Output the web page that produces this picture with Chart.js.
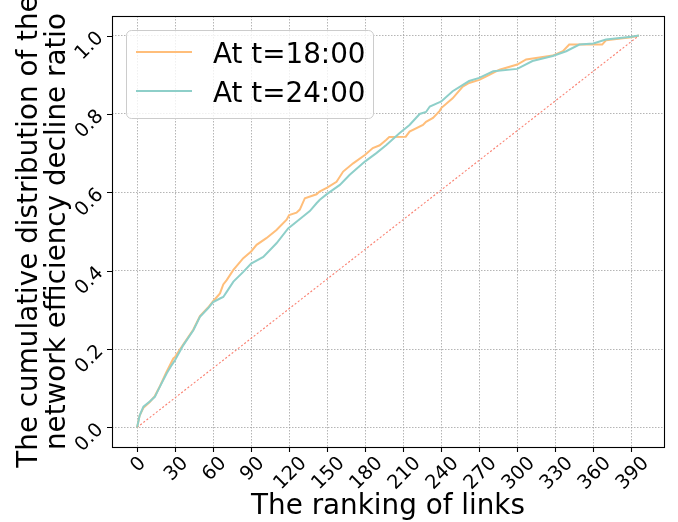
<!DOCTYPE html>
<html><head><meta charset="utf-8">
<script src="https://cdn.jsdelivr.net/npm/chart.js@4.4.1/dist/chart.umd.min.js"></script>
<style>html,body{margin:0;padding:0;background:#fff;} #wrap{width:678px;height:522px;}</style>
</head><body><div id="wrap"><canvas id="c" width="678" height="522"></canvas></div>
<script>
const seriesLabels = ['At t=18:00', 'At t=24:00'];
const rank1800 = [0,2,5,10,14,18,23,28.6,30,36.5,44.4,49.6,56,60,65.4,68,70.7,76,83.8,90,94.3,102,110,118,120,125.8,128.4,132.4,141.6,144,150,157.4,162.6,170.5,180,186,191.5,196.7,199,212,215,225.6,228,233.5,238.8,240,249,257,262,270,275.6,286,300,307,328,336,341,367,370,390,396];
const ratio1800 = [0,0.03,0.05,0.065,0.08,0.105,0.14,0.176,0.18,0.212,0.25,0.284,0.306,0.322,0.342,0.365,0.376,0.402,0.432,0.449,0.466,0.483,0.504,0.53,0.542,0.548,0.556,0.585,0.595,0.602,0.612,0.627,0.653,0.674,0.696,0.713,0.72,0.734,0.741,0.742,0.755,0.772,0.78,0.79,0.808,0.815,0.84,0.87,0.879,0.887,0.896,0.913,0.926,0.939,0.949,0.96,0.977,0.977,0.988,0.996,1.0];
const rank2400 = [0,2,5,10,14,18,23.4,27.3,30,36.5,44.4,49.6,56,60,65.4,68,70.7,76,83.8,90,99.6,110,119.2,128.5,136.3,141.6,144.2,150,160,167.8,180,188.8,196.7,207,215,223,228,231,238.8,240,249,262,270,281,300,312,328,338.6,349,360,370,390,396];
const ratio2400 = [0,0.03,0.053,0.066,0.078,0.104,0.138,0.159,0.172,0.21,0.248,0.282,0.304,0.32,0.329,0.333,0.346,0.372,0.397,0.418,0.435,0.47,0.508,0.532,0.552,0.572,0.581,0.596,0.619,0.645,0.679,0.7,0.721,0.751,0.772,0.8,0.805,0.819,0.83,0.832,0.858,0.884,0.892,0.909,0.915,0.935,0.948,0.96,0.977,0.98,0.99,0.997,1.0];
const diagRank = [0, 396];
const diagRatio = [0, 1];
const xTicks = [0,30,60,90,120,150,180,210,240,270,300,330,360,390];
const yTicks = [0,0.2,0.4,0.6,0.8,1.0];
const yTickLabels = ['0.0','0.2','0.4','0.6','0.8','1.0'];
const xTitle = 'The ranking of links';
const yTitle = ['The cumulative distribution of the', 'network efficiency decline ratio'];

const C_OR = '#FFBE7A', C_TE = '#8ECFC9', C_DI = '#FA7F6F';
const FONT = '"DejaVu Sans", sans-serif';
function pts(xs, ys) { return xs.map((x, i) => ({x: x, y: ys[i]})); }

const decor = {
  id: 'decor',
  afterDraw(chart) {
    const ctx = chart.ctx, a = chart.chartArea, xs = chart.scales.x, ys = chart.scales.y;
    ctx.save();
    // frame
    ctx.strokeStyle = '#000'; ctx.lineWidth = 1.1;
    ctx.strokeRect(Math.round(a.left) + 0.5, Math.round(a.top) + 0.5, Math.round(a.right - a.left), Math.round(a.bottom - a.top));
    // tick marks
    ctx.beginPath();
    xTicks.forEach(v => { const p = Math.round(xs.getPixelForValue(v)) + 0.5; ctx.moveTo(p, a.bottom); ctx.lineTo(p, a.bottom + 5); });
    yTicks.forEach(v => { const p = Math.round(ys.getPixelForValue(v)) + 0.5; ctx.moveTo(a.left, p); ctx.lineTo(a.left - 5, p); });
    ctx.stroke();
    // tick labels
    const fs = 19.4, cap = 0.73 * fs, r2 = Math.SQRT2;
    ctx.font = fs + 'px ' + FONT; ctx.fillStyle = '#000';
    ctx.textAlign = 'center'; ctx.textBaseline = 'alphabetic';
    xTicks.forEach(v => {
      const t = String(v), w = ctx.measureText(t).width;
      const cx = xs.getPixelForValue(v), cy = a.bottom + 7 + (w + cap) / (2 * r2);
      ctx.save(); ctx.translate(cx, cy); ctx.rotate(-Math.PI / 4); ctx.fillText(t, 0, cap / 2); ctx.restore();
    });
    yTicks.forEach((v, i) => {
      const t = yTickLabels[i], w = ctx.measureText(t).width;
      const half = (w + cap) / (2 * r2);
      const cx = a.left - 8 - half, cy = ys.getPixelForValue(v) + 9;
      ctx.save(); ctx.translate(cx, cy); ctx.rotate(-Math.PI / 4); ctx.fillText(t, 0, cap / 2); ctx.restore();
    });
    // axis titles
    const tf = 27.8;
    ctx.font = tf + 'px ' + FONT;
    ctx.fillText(xTitle, (a.left + a.right) / 2, 514);
    const my = (a.top + a.bottom) / 2;
    [37, 65].forEach((bx, i) => {
      ctx.save(); ctx.translate(bx, my); ctx.rotate(-Math.PI / 2); ctx.fillText(yTitle[i], 0, 0); ctx.restore();
    });
    // legend
    const lx = 126.5, ly = 30.5, lw = 247, lh = 88, rr = 5;
    ctx.beginPath();
    ctx.moveTo(lx + rr, ly); ctx.lineTo(lx + lw - rr, ly); ctx.arcTo(lx + lw, ly, lx + lw, ly + rr, rr);
    ctx.lineTo(lx + lw, ly + lh - rr); ctx.arcTo(lx + lw, ly + lh, lx + lw - rr, ly + lh, rr);
    ctx.lineTo(lx + rr, ly + lh); ctx.arcTo(lx, ly + lh, lx, ly + lh - rr, rr);
    ctx.lineTo(lx, ly + rr); ctx.arcTo(lx, ly, lx + rr, ly, rr); ctx.closePath();
    ctx.fillStyle = 'rgba(255,255,255,0.8)'; ctx.fill();
    ctx.strokeStyle = '#cccccc'; ctx.lineWidth = 1; ctx.stroke();
    const rows = [{c: C_OR, ly: 52, ty: 63, t: seriesLabels[0]}, {c: C_TE, ly: 91, ty: 102, t: seriesLabels[1]}];
    ctx.textAlign = 'left'; ctx.fillStyle = '#000';
    rows.forEach(r => {
      ctx.strokeStyle = r.c; ctx.lineWidth = 2;
      ctx.beginPath(); ctx.moveTo(136, r.ly); ctx.lineTo(192, r.ly); ctx.stroke();
      ctx.fillText(r.t, 213, r.ty);
    });
    ctx.restore();
  }
};

const gridOpts = {color: 'rgba(150,150,150,0.7)', lineWidth: 1, drawTicks: false};
new Chart(document.getElementById('c'), {
  type: 'line',
  data: {
    datasets: [
      {label: seriesLabels[0], data: pts(rank1800, ratio1800), borderColor: C_OR, borderWidth: 2, pointRadius: 0, fill: false, tension: 0, order: 1},
      {label: seriesLabels[1], data: pts(rank2400, ratio2400), borderColor: C_TE, borderWidth: 2, pointRadius: 0, fill: false, tension: 0, order: 0},
      {label: 'diag', data: pts(diagRank, diagRatio), borderColor: C_DI, borderWidth: 1.1, borderDash: [2, 2], pointRadius: 0, fill: false, order: 2}
    ]
  },
  options: {
    responsive: false, animation: false, devicePixelRatio: 1,
    layout: {padding: {left: 112, right: 14, top: 16, bottom: 75}},
    plugins: {legend: {display: false}, tooltip: {enabled: false}},
    scales: {
      x: {type: 'linear', min: -19.8, max: 415.8,
          afterBuildTicks: ax => { ax.ticks = xTicks.map(v => ({value: v})); },
          ticks: {display: false}, grid: gridOpts, border: {display: false, dash: [1.5, 1.5]}},
      y: {type: 'linear', min: -0.05, max: 1.05,
          afterBuildTicks: ax => { ax.ticks = yTicks.map(v => ({value: v})); },
          ticks: {display: false}, grid: gridOpts, border: {display: false, dash: [1.5, 1.5]}}
    }
  },
  plugins: [decor]
});
</script></body></html>
